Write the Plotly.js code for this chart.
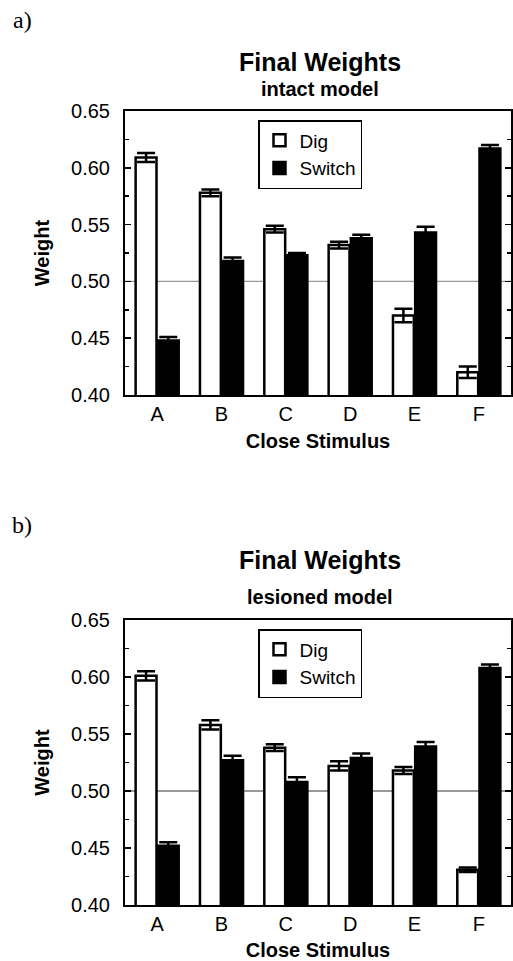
<!DOCTYPE html>
<html>
<head>
<meta charset="utf-8">
<script src="https://cdn.plot.ly/plotly-3.0.1.min.js"></script>
<style>html,body{margin:0;padding:0;background:#fff;}#chart{width:513px;height:961px;}</style>
</head>
<body>
<div id="chart"></div>
<script>
const categories = ['A', 'B', 'C', 'D', 'E', 'F'];
const seriesNames = ['Dig', 'Switch'];

const intactDig = [0.609, 0.578, 0.546, 0.532, 0.470, 0.420];
const intactDigErr = [0.004, 0.003, 0.003, 0.003, 0.006, 0.005];
const intactSwitch = [0.448, 0.518, 0.523, 0.538, 0.543, 0.617];
const intactSwitchErr = [0.003, 0.003, 0.002, 0.003, 0.005, 0.003];

const lesionedDig = [0.601, 0.558, 0.538, 0.522, 0.518, 0.431];
const lesionedDigErr = [0.004, 0.004, 0.003, 0.004, 0.003, 0.002];
const lesionedSwitch = [0.452, 0.527, 0.508, 0.529, 0.539, 0.608];
const lesionedSwitchErr = [0.003, 0.004, 0.004, 0.004, 0.004, 0.003];

const yTickVals = [0.40, 0.45, 0.50, 0.55, 0.60, 0.65];
const yTickText = ['0.40', '0.45', '0.50', '0.55', '0.60', '0.65'];
const refLine = 0.5;

const FONT = 'Liberation Sans, Arial, sans-serif';

function bar(name, y, err, xa, ya, legend, filled) {
  return {
    type: 'bar', name: name, x: categories, y: y,
    xaxis: xa, yaxis: ya, legend: legend,
    marker: {color: filled ? '#000' : '#fff', line: {color: '#000', width: 2.5}},
    error_y: {type: 'data', array: err, visible: true, color: '#000', thickness: 2.5, width: 9}
  };
}

const data = [
  bar(seriesNames[0], intactDig, intactDigErr, 'x', 'y', 'legend', false),
  bar(seriesNames[1], intactSwitch, intactSwitchErr, 'x', 'y', 'legend', true),
  bar(seriesNames[0], lesionedDig, lesionedDigErr, 'x2', 'y2', 'legend2', false),
  bar(seriesNames[1], lesionedSwitch, lesionedSwitchErr, 'x2', 'y2', 'legend2', true)
];

const W = 513, H = 961;
const px = v => v / W;
const py = v => 1 - v / H;

function yax(top, bottom, anchor) {
  return {
    domain: [py(bottom), py(top)], anchor: anchor,
    range: [0.40, 0.65], tickvals: yTickVals, ticktext: yTickText,
    ticks: 'inside', ticklen: 6, tickwidth: 1.5, tickcolor: '#000',
    ticklabelstandoff: 9,
    minor: {dtick: 0.025, tick0: 0.40, ticks: 'inside', ticklen: 4, tickcolor: '#000'},
    showline: true, linecolor: '#000', linewidth: 2, mirror: 'ticks',
    showgrid: false, zeroline: false,
    tickfont: {family: FONT, size: 20, color: '#000'},
    title: {text: '<b>Weight</b>', font: {family: FONT, size: 20, color: '#000'}, standoff: 16}
  };
}
function xax(anchor) {
  return {
    domain: [px(125), px(511)], anchor: anchor,
    ticks: '', showline: true, linecolor: '#000', linewidth: 2, mirror: true,
    showgrid: false, zeroline: false,
    tickfont: {family: FONT, size: 20, color: '#000'},
    title: {text: '<b>Close Stimulus</b>', font: {family: FONT, size: 20, color: '#000'}, standoff: 10}
  };
}

function legendBox(top) {
  return {
    x: px(258), y: py(top), xanchor: 'left', yanchor: 'top',
    bgcolor: '#fff', bordercolor: '#000', borderwidth: 1.5,
    font: {family: FONT, size: 19, color: '#000'},
    itemwidth: 30, tracegroupgap: 0
  };
}

const annText = (text, x, y, size, family) => ({
  text: text, x: px(x), y: py(y), xref: 'paper', yref: 'paper',
  xanchor: 'center', yanchor: 'middle', showarrow: false,
  font: {family: family || FONT, size: size, color: '#000'}
});

const layout = {
  width: W, height: H,
  margin: {l: 0, r: 0, t: 0, b: 0},
  paper_bgcolor: '#fff', plot_bgcolor: '#fff',
  barmode: 'group', bargap: 0.31, bargroupgap: 0.06,
  showlegend: true,
  xaxis: xax('y'), yaxis: yax(111, 395, 'x'),
  xaxis2: xax('y2'), yaxis2: yax(620, 905, 'x2'),
  legend: legendBox(120),
  legend2: legendBox(629),
  shapes: [
    {type: 'line', xref: 'x domain', yref: 'y', x0: 0, x1: 1, y0: refLine, y1: refLine, layer: 'below', line: {color: '#999', width: 1.2}},
    {type: 'line', xref: 'x2 domain', yref: 'y2', x0: 0, x1: 1, y0: refLine, y1: refLine, layer: 'below', line: {color: '#333', width: 1}}
  ],
  annotations: [
    annText('a)', 22, 20, 24, 'Liberation Serif, Times New Roman, serif'),
    annText('<b>Final Weights</b>', 320, 62, 25),
    annText('<b>intact model</b>', 320, 89, 20),
    annText('b)', 22, 525, 24, 'Liberation Serif, Times New Roman, serif'),
    annText('<b>Final Weights</b>', 320, 560, 25),
    annText('<b>lesioned model</b>', 320, 597, 20)
  ]
};

Plotly.newPlot('chart', data, layout, {staticPlot: true, displayModeBar: false});
</script>
</body>
</html>
